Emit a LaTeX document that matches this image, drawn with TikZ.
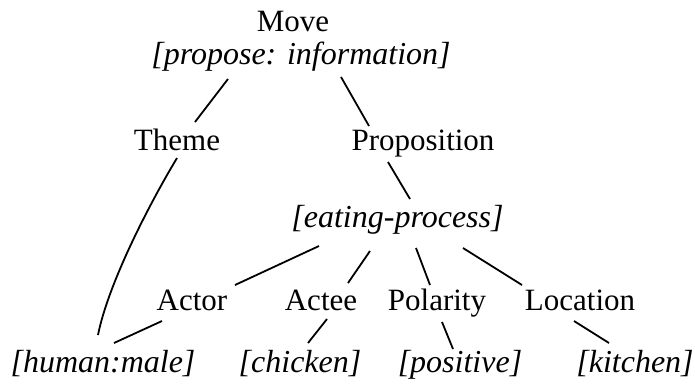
\documentclass[tikz,border=0pt]{standalone}
\usepackage{fontspec}
\setmainfont{Liberation Serif}
\begin{document}
\begin{tikzpicture}[x=1pt,y=-1pt,
  lbl/.style={anchor=base,inner sep=0pt,font=\fontsize{31}{36}\selectfont},
  feat/.style={lbl,font=\fontsize{32}{36}\selectfont\itshape},
  link/.style={line width=1.8pt}]
\useasboundingbox (0,0) rectangle (695,384);
\node[lbl]  (move)  at (293,31) {Move};
\node[feat] (prop)  at (301,64) {[propose: information]};
\node[lbl]  (theme) at (177,150) {Theme};
\node[lbl]  (propn) at (423,150) {Proposition};
\node[feat] (eat)   at (397.5,227) {[eating-process]};
\node[lbl]  (actor) at (192,310) {Actor};
\node[lbl]  (actee) at (321,310) {Actee};
\node[lbl]  (pol)   at (437,310) {Polarity};
\node[lbl]  (loc)   at (580,310) {Location};
\node[feat] (human) at (103,372) {[human:male]};
\node[feat] (chick) at (300,372) {[chicken]};
\node[feat] (pos)   at (460,372) {[positive]};
\node[feat] (kit)   at (635,372) {[kitchen]};
\draw[link] ([shift={(-73,15)}]prop.base) -- ([shift={(18,-28)}]theme.base);
\draw[link] ([shift={(40,13)}]prop.base) -- ([shift={(-54,-24)}]propn.base);
\draw[link] ([shift={(-35,12)}]propn.base) -- ([shift={(12.5,-28)}]eat.base);
\draw[link] ([shift={(0,8)}]theme.base) .. controls ++(-30,50) and ++(10,-50) .. ([shift={(-5,-37)}]human.base);
\draw[link] ([shift={(-78.5,19)}]eat.base) -- ([shift={(43,-25)}]actor.base);
\draw[link] ([shift={(-27.5,24)}]eat.base) -- ([shift={(27,-27)}]actee.base);
\draw[link] ([shift={(18.5,21)}]eat.base) -- ([shift={(-7,-25)}]pol.base);
\draw[link] ([shift={(65.5,21)}]eat.base) -- ([shift={(-58,-25)}]loc.base);
\draw[link] ([shift={(-30,11)}]actor.base) -- ([shift={(11,-29)}]human.base);
\draw[link] ([shift={(6,9)}]actee.base) -- ([shift={(8,-29)}]chick.base);
\draw[link] ([shift={(5,12)}]pol.base) -- ([shift={(-7,-23)}]pos.base);
\draw[link] ([shift={(-6,11)}]loc.base) -- ([shift={(-26,-29)}]kit.base);
\end{tikzpicture}
\end{document}
